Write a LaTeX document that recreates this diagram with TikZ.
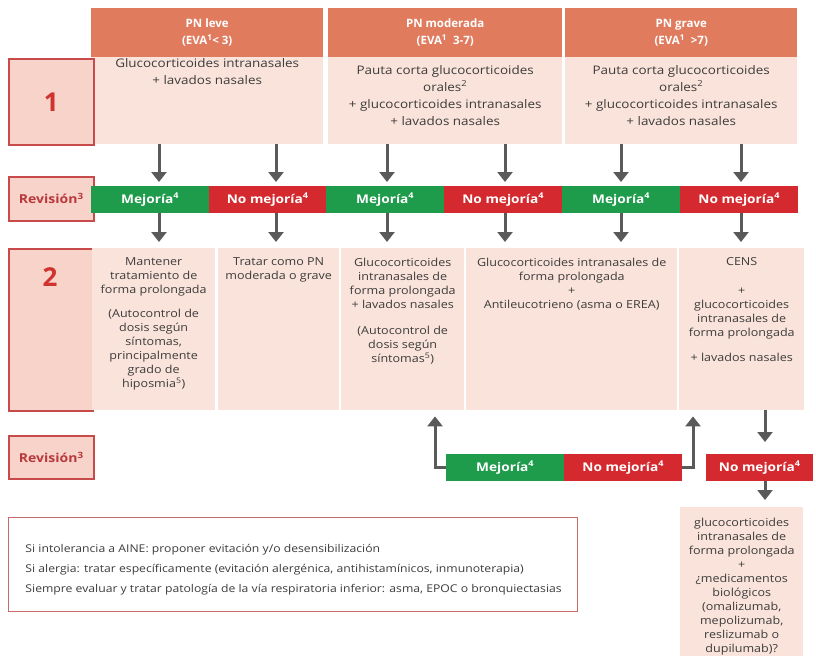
\documentclass[tikz,border=0pt]{standalone}
\usepackage{fontspec}
\setmainfont{Open Sans}[FakeStretch=1.14]
\newfontfamily\hdrfont{Open Sans}
\usetikzlibrary{arrows.meta}
\definecolor{hdrc}{HTML}{E07B5E}
\definecolor{cellc}{HTML}{FAE3DA}
\definecolor{grn}{HTML}{1E9B4B}
\definecolor{rd}{HTML}{D42A2F}
\definecolor{labf}{HTML}{F7D3CA}
\definecolor{labd}{HTML}{C84B4B}
\definecolor{digit}{HTML}{D0322F}
\definecolor{revt}{HTML}{B8383B}
\definecolor{arrc}{HTML}{5A5A5A}
\definecolor{txt}{HTML}{3C3C3C}
\definecolor{noted}{HTML}{C66A6A}
\newcommand\cbx[3]{\begin{minipage}[t][#2][t]{#1}\centering\vspace*{#3}}
\newcommand\ecbx{\end{minipage}}
\begin{document}
\begin{tikzpicture}[x=1pt,y=-1pt,
 hdr/.style={fill=hdrc, text=white, font=\hdrfont\bfseries\fontsize{11.5}{17}\selectfont, align=center, inner sep=0pt, anchor=north west, minimum height=49pt},
 cell/.style={fill=cellc, text=txt, inner sep=0pt, anchor=north west},
 cellA/.style={cell, font=\fontsize{11.8}{17}\selectfont},
 cellB/.style={cell, font=\fontsize{11}{14}\selectfont},
 lab/.style={fill=labf, draw=labd, line width=1.5pt, inner sep=0pt, anchor=north west},
 digitt/.style={text=digit, font=\hdrfont\bfseries\fontsize{26}{30}\selectfont},
 revlab/.style={lab, text=revt, font=\bfseries\fontsize{12.3}{14}\selectfont},
 band/.style={text=white, font=\bfseries\fontsize{12}{14}\selectfont, inner sep=0pt, minimum height=27pt, minimum width=118pt, anchor=north west},
 gband/.style={band, fill=grn},
 rband/.style={band, fill=rd},
 arr/.style={draw=arrc, line width=3pt, -{Triangle[width=15pt,length=10pt]}},
 notebox/.style={draw=noted, line width=1pt, fill=white, inner sep=0pt, anchor=north west, text=txt, font=\fontsize{10.7}{20}\selectfont}
]
\useasboundingbox (0,0) rectangle (816,656);

% headers
\node[hdr, minimum width=232pt] (h1) at (91,8) {PN leve\\(EVA\textsuperscript{1}< 3)};
\node[hdr, minimum width=234pt] (h2) at (328,8) {PN moderada\\(EVA\textsuperscript{1}\ \ 3-7)};
\node[hdr, minimum width=232pt] (h3) at (565,8) {PN grave\\(EVA\textsuperscript{1}\ \ >7)};

% row 1
\node[cellA] (a1) at (91,57) {\cbx{232pt}{87pt}{1.5pt}Glucocorticoides intranasales\\+ lavados nasales\ecbx};
\node[cellA] (a2) at (328,57) {\cbx{234pt}{87pt}{8pt}Pauta corta glucocorticoides\\orales\textsuperscript{2}\\+ glucocorticoides intranasales\\+ lavados nasales\ecbx};
\node[cellA] (a3) at (565,57) {\cbx{232pt}{87pt}{8pt}Pauta corta glucocorticoides\\orales\textsuperscript{2}\\+ glucocorticoides intranasales\\+ lavados nasales\ecbx};

% left labels
\node[lab, minimum width=85pt, minimum height=86pt, digitt] (L1) at (8,58) {1};
\node[revlab, minimum width=85pt, minimum height=44pt] (R1) at (8,176) {Revisión\textsuperscript{3}};
\node[lab, minimum width=84pt, minimum height=162pt] (L2) at (8,248) {};
\node[digitt, anchor=center] (L2t) at (50,277) {2};
\node[revlab, minimum width=85pt, minimum height=43pt] (R2) at (8,435) {Revisión\textsuperscript{3}};

% first band
\node[gband] (g1) at (91,186) {Mejoría\textsuperscript{4}};
\node[rband, minimum width=117pt] (r1) at (209,186) {No mejoría\textsuperscript{4}};
\node[gband] (g2) at (326,186) {Mejoría\textsuperscript{4}};
\node[rband] (r2) at (444,186) {No mejoría\textsuperscript{4}};
\node[gband] (g3) at (562,186) {Mejoría\textsuperscript{4}};
\node[rband] (r3) at (680,186) {No mejoría\textsuperscript{4}};

% row 2
\node[cellB] (b1) at (92,248) {\cbx{123pt}{162pt}{9.5pt}Mantener\\tratamiento de\\forma prolongada\\[10pt](Autocontrol de\\dosis según\\síntomas,\\principalmente\\grado de\\hiposmia\textsuperscript{5})\ecbx};
\node[cellB] (b2) at (218,248) {\cbx{121pt}{162pt}{9.5pt}Tratar como PN\\moderada o grave\ecbx};
\node[cellB] (b3) at (341,248) {\cbx{123pt}{162pt}{9.5pt}Glucocorticoides\\intranasales de\\forma prolongada\\+ lavados nasales\\[12pt](Autocontrol de\\dosis según\\síntomas\textsuperscript{5})\ecbx};
\node[cellB] (b4) at (466,248) {\cbx{211pt}{162pt}{9.5pt}Glucocorticoides intranasales de\\forma prolongada\\+\\Antileucotrieno (asma o EREA)\ecbx};
\node[cellB] (b5) at (679,248) {\cbx{125pt}{162pt}{9.5pt}CENS\\[15pt]+\\glucocorticoides\\intranasales de\\forma prolongada\\[11pt]+ lavados nasales\ecbx};

% second band
\node[gband] (g4) at (446,454) {Mejoría\textsuperscript{4}};
\node[rband] (r4) at (564,454) {No mejoría\textsuperscript{4}};
\node[rband, minimum width=107pt] (r5) at (706,454) {No mejoría\textsuperscript{4}};

% final box
\node[cellB] (fb) at (680,507) {\cbx{123pt}{149pt}{10.5pt}glucocorticoides\\intranasales de\\forma prolongada\\+\\¿medicamentos\\biológicos\\(omalizumab,\\mepolizumab,\\reslizumab o\\dupilumab)?\ecbx};

% note
\node[notebox] (note) at (8,517) {\begin{minipage}[t][94pt][t]{569pt}\raggedright\leftskip=17pt\vspace*{26.5pt}Si intolerancia a AINE: proponer evitación y/o desensibilización\\Si alergia: tratar específicamente (evitación alergénica, antihistamínicos, inmunoterapia)\\Siempre evaluar y tratar patología de la vía respiratoria inferior: asma, EPOC o bronquiectasias\end{minipage}};

% arrow columns
\coordinate (x1) at (159,0);
\coordinate (x2) at (276,0);
\coordinate (x3) at (387,0);
\coordinate (x4) at (505,0);
\coordinate (x5) at (621,0);
\coordinate (x6) at (741,0);
\coordinate (x7) at (435,0);
\coordinate (x8) at (693,0);
\coordinate (x9) at (765,0);

\draw[arr, shorten >=4pt] (x1 |- a1.south) -- (x1 |- g1.north);
\draw[arr, shorten >=4pt] (x2 |- a1.south) -- (x2 |- r1.north);
\draw[arr, shorten >=4pt] (x3 |- a2.south) -- (x3 |- g2.north);
\draw[arr, shorten >=4pt] (x4 |- a2.south) -- (x4 |- r2.north);
\draw[arr, shorten >=4pt] (x5 |- a3.south) -- (x5 |- g3.north);
\draw[arr, shorten >=4pt] (x6 |- a3.south) -- (x6 |- r3.north);

\draw[arr, shorten >=6pt] (x1 |- g1.south) -- (x1 |- b1.north);
\draw[arr, shorten >=6pt] (x2 |- r1.south) -- (x2 |- b2.north);
\draw[arr, shorten >=6pt] (x3 |- g2.south) -- (x3 |- b3.north);
\draw[arr, shorten >=6pt] (x4 |- r2.south) -- (x4 |- b4.north);
\draw[arr, shorten >=6pt] (x5 |- g3.south) -- (x5 |- b4.north);
\draw[arr, shorten >=6pt] (x6 |- r3.south) -- (x6 |- b5.north);

\draw[arr, shorten >=6pt] (g4.west) -| (x7 |- b3.south);
\draw[arr, shorten >=6pt] (r4.east) -| (x8 |- b5.south);
\draw[arr, shorten >=12pt] (x9 |- b5.south) -- (x9 |- r5.north);
\draw[arr, shorten >=7pt] (x9 |- r5.south) -- (x9 |- fb.north);
\end{tikzpicture}
\end{document}
